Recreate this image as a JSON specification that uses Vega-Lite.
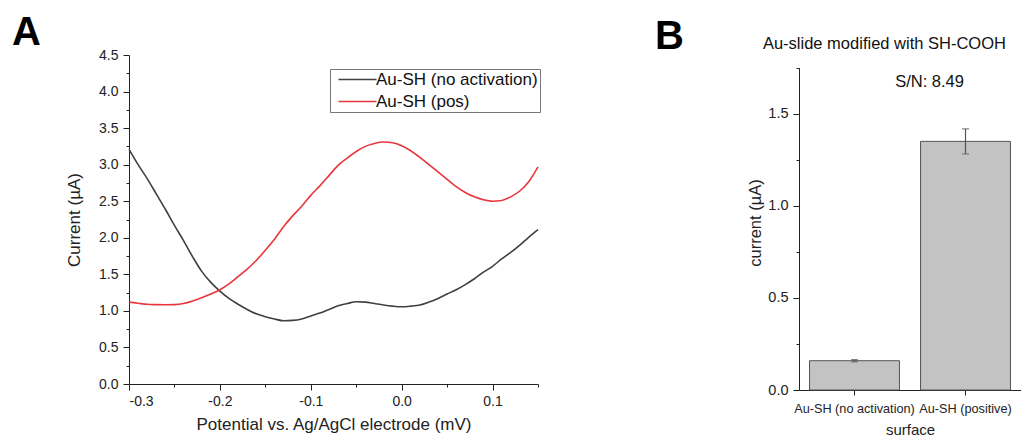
{
  "$schema": "https://vega.github.io/schema/vega-lite/v6.json",
  "background": "white",
  "padding": {"left": 12, "top": 13, "right": 0, "bottom": 0},
  "config": {
    "view": {"stroke": null},
    "font": "Liberation Sans",
    "axis": {"domainColor": "#222", "tickColor": "#222", "labelColor": "#222", "titleColor": "#222", "grid": false, "labelFont": "Liberation Sans", "titleFont": "Liberation Sans", "titleFontWeight": "normal", "domainWidth": 1, "tickWidth": 1}
  },
  "spacing": 113,
  "hconcat": [
    {
      "width": 409,
      "height": 329,
      "title": {"text": "A", "fontSize": 40, "font": "Liberation Sans", "fontWeight": "bold", "anchor": "start", "frame": "group", "dx": -117, "offset": -5, "color": "#000"},
      "data": {"values": [
        {"s": "Au-SH (no activation)", "x": -0.300, "y": 3.21},
        {"s": "Au-SH (no activation)", "x": -0.290, "y": 3.00},
        {"s": "Au-SH (no activation)", "x": -0.280, "y": 2.81},
        {"s": "Au-SH (no activation)", "x": -0.270, "y": 2.60},
        {"s": "Au-SH (no activation)", "x": -0.260, "y": 2.39},
        {"s": "Au-SH (no activation)", "x": -0.250, "y": 2.17},
        {"s": "Au-SH (no activation)", "x": -0.240, "y": 1.96},
        {"s": "Au-SH (no activation)", "x": -0.230, "y": 1.74},
        {"s": "Au-SH (no activation)", "x": -0.220, "y": 1.54},
        {"s": "Au-SH (no activation)", "x": -0.210, "y": 1.39},
        {"s": "Au-SH (no activation)", "x": -0.200, "y": 1.27},
        {"s": "Au-SH (no activation)", "x": -0.190, "y": 1.17},
        {"s": "Au-SH (no activation)", "x": -0.180, "y": 1.09},
        {"s": "Au-SH (no activation)", "x": -0.170, "y": 1.02},
        {"s": "Au-SH (no activation)", "x": -0.160, "y": 0.96},
        {"s": "Au-SH (no activation)", "x": -0.150, "y": 0.92},
        {"s": "Au-SH (no activation)", "x": -0.140, "y": 0.89},
        {"s": "Au-SH (no activation)", "x": -0.130, "y": 0.865},
        {"s": "Au-SH (no activation)", "x": -0.120, "y": 0.87},
        {"s": "Au-SH (no activation)", "x": -0.110, "y": 0.89},
        {"s": "Au-SH (no activation)", "x": -0.100, "y": 0.93},
        {"s": "Au-SH (no activation)", "x": -0.090, "y": 0.97},
        {"s": "Au-SH (no activation)", "x": -0.080, "y": 1.02},
        {"s": "Au-SH (no activation)", "x": -0.070, "y": 1.07},
        {"s": "Au-SH (no activation)", "x": -0.060, "y": 1.10},
        {"s": "Au-SH (no activation)", "x": -0.050, "y": 1.125},
        {"s": "Au-SH (no activation)", "x": -0.040, "y": 1.12},
        {"s": "Au-SH (no activation)", "x": -0.030, "y": 1.10},
        {"s": "Au-SH (no activation)", "x": -0.020, "y": 1.08},
        {"s": "Au-SH (no activation)", "x": -0.010, "y": 1.065},
        {"s": "Au-SH (no activation)", "x": 0.000, "y": 1.057},
        {"s": "Au-SH (no activation)", "x": 0.010, "y": 1.065},
        {"s": "Au-SH (no activation)", "x": 0.020, "y": 1.08},
        {"s": "Au-SH (no activation)", "x": 0.030, "y": 1.12},
        {"s": "Au-SH (no activation)", "x": 0.040, "y": 1.17},
        {"s": "Au-SH (no activation)", "x": 0.050, "y": 1.23},
        {"s": "Au-SH (no activation)", "x": 0.060, "y": 1.29},
        {"s": "Au-SH (no activation)", "x": 0.070, "y": 1.36},
        {"s": "Au-SH (no activation)", "x": 0.080, "y": 1.44},
        {"s": "Au-SH (no activation)", "x": 0.090, "y": 1.53},
        {"s": "Au-SH (no activation)", "x": 0.100, "y": 1.61},
        {"s": "Au-SH (no activation)", "x": 0.110, "y": 1.71},
        {"s": "Au-SH (no activation)", "x": 0.120, "y": 1.80},
        {"s": "Au-SH (no activation)", "x": 0.130, "y": 1.90},
        {"s": "Au-SH (no activation)", "x": 0.140, "y": 2.01},
        {"s": "Au-SH (no activation)", "x": 0.150, "y": 2.11},
        {"s": "Au-SH (pos)", "x": -0.30, "y": 1.12},
        {"s": "Au-SH (pos)", "x": -0.29, "y": 1.105},
        {"s": "Au-SH (pos)", "x": -0.28, "y": 1.09},
        {"s": "Au-SH (pos)", "x": -0.27, "y": 1.085},
        {"s": "Au-SH (pos)", "x": -0.26, "y": 1.083},
        {"s": "Au-SH (pos)", "x": -0.25, "y": 1.085},
        {"s": "Au-SH (pos)", "x": -0.24, "y": 1.10},
        {"s": "Au-SH (pos)", "x": -0.23, "y": 1.135},
        {"s": "Au-SH (pos)", "x": -0.22, "y": 1.18},
        {"s": "Au-SH (pos)", "x": -0.21, "y": 1.23},
        {"s": "Au-SH (pos)", "x": -0.20, "y": 1.29},
        {"s": "Au-SH (pos)", "x": -0.19, "y": 1.37},
        {"s": "Au-SH (pos)", "x": -0.18, "y": 1.47},
        {"s": "Au-SH (pos)", "x": -0.17, "y": 1.57},
        {"s": "Au-SH (pos)", "x": -0.16, "y": 1.69},
        {"s": "Au-SH (pos)", "x": -0.15, "y": 1.83},
        {"s": "Au-SH (pos)", "x": -0.14, "y": 1.98},
        {"s": "Au-SH (pos)", "x": -0.13, "y": 2.15},
        {"s": "Au-SH (pos)", "x": -0.12, "y": 2.30},
        {"s": "Au-SH (pos)", "x": -0.11, "y": 2.43},
        {"s": "Au-SH (pos)", "x": -0.10, "y": 2.58},
        {"s": "Au-SH (pos)", "x": -0.09, "y": 2.71},
        {"s": "Au-SH (pos)", "x": -0.08, "y": 2.85},
        {"s": "Au-SH (pos)", "x": -0.07, "y": 2.99},
        {"s": "Au-SH (pos)", "x": -0.06, "y": 3.09},
        {"s": "Au-SH (pos)", "x": -0.05, "y": 3.18},
        {"s": "Au-SH (pos)", "x": -0.04, "y": 3.25},
        {"s": "Au-SH (pos)", "x": -0.03, "y": 3.29},
        {"s": "Au-SH (pos)", "x": -0.02, "y": 3.31},
        {"s": "Au-SH (pos)", "x": -0.01, "y": 3.30},
        {"s": "Au-SH (pos)", "x": 0.00, "y": 3.26},
        {"s": "Au-SH (pos)", "x": 0.01, "y": 3.19},
        {"s": "Au-SH (pos)", "x": 0.02, "y": 3.10},
        {"s": "Au-SH (pos)", "x": 0.03, "y": 3.00},
        {"s": "Au-SH (pos)", "x": 0.04, "y": 2.90},
        {"s": "Au-SH (pos)", "x": 0.05, "y": 2.80},
        {"s": "Au-SH (pos)", "x": 0.06, "y": 2.70},
        {"s": "Au-SH (pos)", "x": 0.07, "y": 2.62},
        {"s": "Au-SH (pos)", "x": 0.08, "y": 2.56},
        {"s": "Au-SH (pos)", "x": 0.09, "y": 2.52},
        {"s": "Au-SH (pos)", "x": 0.10, "y": 2.50},
        {"s": "Au-SH (pos)", "x": 0.11, "y": 2.51},
        {"s": "Au-SH (pos)", "x": 0.12, "y": 2.56},
        {"s": "Au-SH (pos)", "x": 0.13, "y": 2.64},
        {"s": "Au-SH (pos)", "x": 0.14, "y": 2.77},
        {"s": "Au-SH (pos)", "x": 0.15, "y": 2.97}
      ]},
      "mark": {"type": "line", "interpolate": "monotone", "strokeWidth": 1.6},
      "encoding": {
        "x": {"field": "x", "type": "quantitative",
          "scale": {"domain": [-0.3, 0.15], "nice": false, "zero": false},
          "axis": {"title": "Potential vs. Ag/AgCl electrode (mV)", "titleFontSize": 17, "titlePadding": 8, "labelFontSize": 14, "labelPadding": 4,
            "values": [-0.3, -0.25, -0.2, -0.15, -0.1, -0.05, 0, 0.05, 0.1, 0.15],
            "labelExpr": "abs(datum.value*10 - round(datum.value*10)) < 0.01 ? (datum.value < -0.001 ? '-' : '') + format(abs(datum.value), '.1f') : ''",
            "tickSize": {"condition": {"test": "abs(datum.value*10 - round(datum.value*10)) > 0.01", "value": 3}, "value": 6},
            "labelOverlap": false}},
        "y": {"field": "y", "type": "quantitative",
          "scale": {"domain": [0, 4.5], "nice": false},
          "axis": {"title": "Current (µA)", "titleFontSize": 17, "titlePadding": 15, "labelFontSize": 14, "labelPadding": 5,
            "values": [0, 0.25, 0.5, 0.75, 1, 1.25, 1.5, 1.75, 2, 2.25, 2.5, 2.75, 3, 3.25, 3.5, 3.75, 4, 4.25, 4.5],
            "labelExpr": "abs(datum.value*2 - round(datum.value*2)) < 0.01 ? format(datum.value, '.1f') : ''",
            "tickSize": {"condition": {"test": "abs(datum.value*2 - round(datum.value*2)) > 0.01", "value": 3}, "value": 6},
            "labelOverlap": false}},
        "color": {"field": "s", "type": "nominal",
          "scale": {"domain": ["Au-SH (no activation)", "Au-SH (pos)"], "range": ["#404040", "#e8363c"]},
          "legend": {"title": null, "orient": "none", "legendX": 201, "legendY": 14, "strokeColor": "#777", "fillColor": "white", "padding": 2, "cornerRadius": 0,
            "symbolType": "M-1,0H18", "symbolSize": 16, "symbolStrokeWidth": 1.6, "labelFontSize": 17, "labelFont": "Liberation Sans", "labelColor": "#111", "labelOffset": 27, "labelLimit": 0, "rowPadding": 4}}
      }
    },
    {
      "title": {"text": "B", "fontSize": 40, "font": "Liberation Sans", "fontWeight": "bold", "anchor": "start", "frame": "group", "dx": -144, "offset": -21, "color": "#000"},
      "vconcat": [
        {
          "width": 222,
          "height": 335,
          "title": {"text": "Au-slide modified with SH-COOH", "fontSize": 16.5, "fontWeight": "normal", "font": "Liberation Sans", "anchor": "middle", "frame": "bounds", "offset": 3, "color": "#111"},
          "data": {"values": [
            {"surface": "Au-SH (no activation)", "current": 0.159, "err": 0.006},
            {"surface": "Au-SH (positive)", "current": 1.35, "err": 0.068}
          ]},
          "layer": [
            {
              "mark": {"type": "bar", "fill": "#c3c3c3", "stroke": "#555", "strokeWidth": 1},
              "encoding": {
                "x": {"field": "surface", "type": "nominal", "sort": null,
                  "scale": {"paddingInner": 0.19, "paddingOuter": 0.095},
                  "axis": {"title": "surface", "titleFontSize": 15, "titlePadding": 8, "labelFontSize": 12.7, "labelAngle": 0, "labelPadding": 7, "tickSize": 5, "labelOverlap": false, "labelLimit": 0}},
                "y": {"field": "current", "type": "quantitative",
                  "scale": {"domain": [0, 1.819], "nice": false},
                  "axis": {"title": "current (µA)", "titleFontSize": 16.5, "titlePadding": 4, "labelFontSize": 14.5, "labelPadding": 5, "domainDash": [322.3, 60],
                    "values": [0, 0.25, 0.5, 0.75, 1, 1.25, 1.5, 1.75],
                    "labelExpr": "abs(datum.value*2 - round(datum.value*2)) < 0.01 ? format(datum.value, '.1f') : ''",
                    "tickSize": {"condition": {"test": "abs(datum.value*2 - round(datum.value*2)) > 0.01", "value": 3}, "value": 6},
                    "labelOverlap": false}}
              }
            },
            {
              "mark": {"type": "errorbar", "color": "#555", "thickness": 1.2, "ticks": {"size": 7, "color": "#555"}},
              "encoding": {
                "x": {"field": "surface", "type": "nominal", "sort": null},
                "y": {"field": "current", "type": "quantitative",
                  "axis": {"title": "current (µA)", "titleFontSize": 16.5, "titlePadding": 4, "labelFontSize": 14.5, "labelPadding": 5, "domainDash": [322.3, 60],
                    "values": [0, 0.25, 0.5, 0.75, 1, 1.25, 1.5, 1.75],
                    "labelExpr": "abs(datum.value*2 - round(datum.value*2)) < 0.01 ? format(datum.value, '.1f') : ''",
                    "tickSize": {"condition": {"test": "abs(datum.value*2 - round(datum.value*2)) > 0.01", "value": 3}, "value": 6},
                    "labelOverlap": false}},
                "yError": {"field": "err"}
              }
            },
            {
              "data": {"values": [{"label": "S/N: 8.49", "surface": "Au-SH (positive)", "pos": 1.67}]},
              "mark": {"type": "text", "fontSize": 16.5, "font": "Liberation Sans", "color": "#111", "align": "center", "baseline": "middle"},
              "encoding": {
                "x": {"field": "surface", "type": "nominal", "bandPosition": 0.1, "sort": null},
                "y": {"field": "pos", "type": "quantitative",
                  "axis": {"title": "current (µA)", "titleFontSize": 16.5, "titlePadding": 4, "labelFontSize": 14.5, "labelPadding": 5, "domainDash": [322.3, 60],
                    "values": [0, 0.25, 0.5, 0.75, 1, 1.25, 1.5, 1.75],
                    "labelExpr": "abs(datum.value*2 - round(datum.value*2)) < 0.01 ? format(datum.value, '.1f') : ''",
                    "tickSize": {"condition": {"test": "abs(datum.value*2 - round(datum.value*2)) > 0.01", "value": 3}, "value": 6},
                    "labelOverlap": false}},
                "text": {"field": "label"}
              }
            }
          ]
        }
      ]
    }
  ]
}
